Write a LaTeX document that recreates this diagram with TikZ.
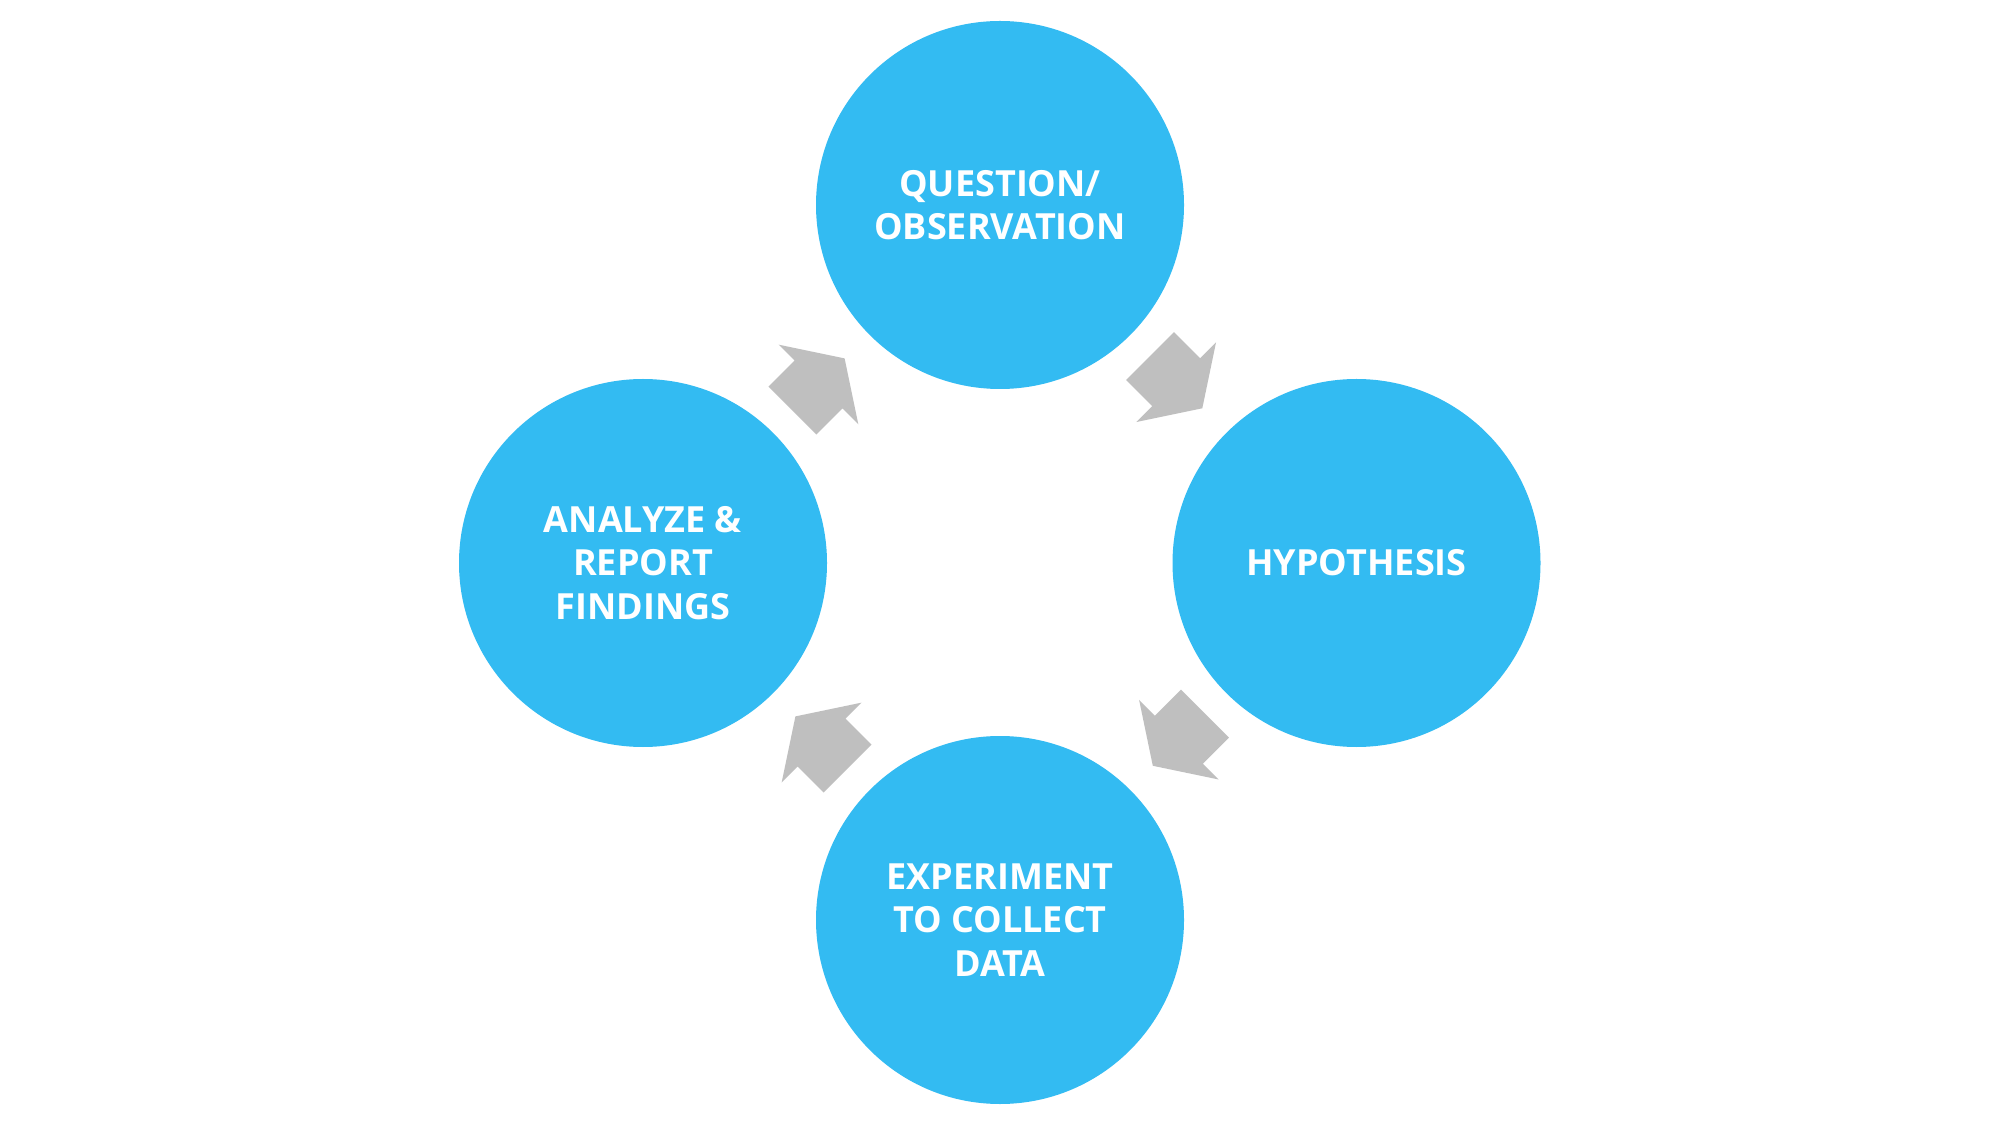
\documentclass[tikz,border=0pt]{standalone}
\usepackage{fontspec}
\setmainfont{Open Sans}[BoldFont={* Bold}]
\definecolor{cblue}{RGB}{51,187,242}
\definecolor{cgray}{RGB}{191,191,191}
\begin{document}
\begin{tikzpicture}[x=0.5pt,y=0.5pt,
  stage/.style={circle,fill=cblue,minimum size=368*0.5pt,inner sep=0pt,
    text=white,align=center,font=\bfseries\fontsize{18}{21.8}\selectfont},
  cyclearrow/.style={fill=cgray}]
\useasboundingbox[fill=white] (0,0) rectangle (2000,1125);
\node[stage] (q) at (1000,920) {QUESTION/\\OBSERVATION};
\node[stage] (h) at (1356.5,562) {HYPOTHESIS};
\node[stage] (e) at (1000,205) {EXPERIMENT\\TO COLLECT\\DATA};
\node[stage] (a) at (643,562) {ANALYZE \&\\REPORT\\FINDINGS};
\newcommand{\cyclearrowshape}[3]{%
  \fill[cyclearrow,shift={(#1,#2)},rotate=#3]
    (-36.9,-33.9) -- (0,-33.9) -- (0,-56.3) -- (36.9,0) -- (0,56.3) -- (0,33.9) -- (-36.9,33.9) -- cycle;}
\cyclearrowshape{1176.2}{742.8}{-45}
\cyclearrowshape{1178.9}{385.3}{-135}
\cyclearrowshape{821.5}{382.5}{135}
\cyclearrowshape{818.5}{740.5}{45}
\end{tikzpicture}
\end{document}
